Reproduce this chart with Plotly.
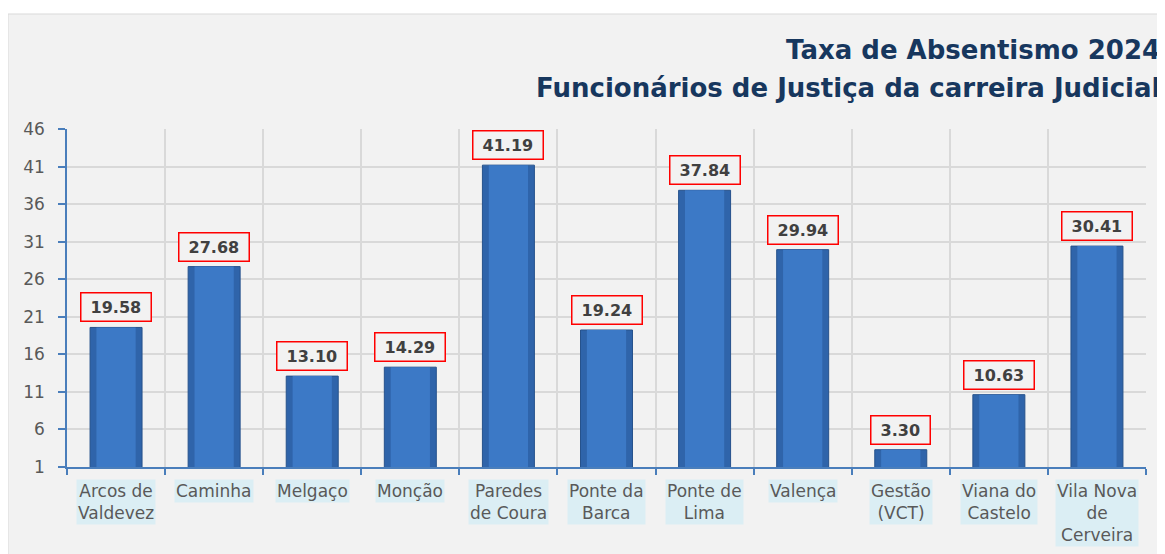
import plotly.graph_objects as go

categories = ["Arcos de Valdevez", "Caminha", "Melgaço", "Monção", "Paredes de Coura",
              "Ponte da Barca", "Ponte de Lima", "Valença", "Gestão (VCT)",
              "Viana do Castelo", "Vila Nova de Cerveira"]
category_labels = ["Arcos de<br>Valdevez", "Caminha", "Melgaço", "Monção", "Paredes<br>de Coura",
                   "Ponte da<br>Barca", "Ponte de<br>Lima", "Valença", "Gestão<br>(VCT)",
                   "Viana do<br>Castelo", "Vila Nova<br>de<br>Cerveira"]
values = [19.58, 27.68, 13.10, 14.29, 41.19, 19.24, 37.84, 29.94, 3.30, 10.63, 30.41]
y_ticks = [1, 6, 11, 16, 21, 26, 31, 36, 41, 46]
title_line1 = "Taxa de Absentismo 2024"
title_line2 = "Funcionários de Justiça da carreira Judicial"

# page body has an 8px margin; figure is laid out in window pixels minus that offset
OFF = 8
W, H = 1165 - OFF, 554 - OFF
ML, MR, MT, MB = 67 - OFF, 19, 129 - OFF, H - (467 - OFF)
PW, PH = W - ML - MR, H - MT - MB


def px_x(xw):
    return (xw - OFF - ML) / PW


def px_y(yw):
    return (H - MB - (yw - OFF)) / PH


FONT = "DejaVu Sans"
AXIS_BLUE = "#4a7ebb"

fig = go.Figure()
fig.add_trace(go.Bar(
    x=categories, y=values, width=0.53,
    marker=dict(color="#2f64aa", line=dict(color="#26528c", width=1)),
    hoverinfo="x+y",
))
fig.add_trace(go.Bar(
    x=categories, y=values, width=0.40,
    marker=dict(color="#3c79c6", line=dict(width=0)),
    hoverinfo="skip",
))

annotations = []
for c, v in zip(categories, values):
    annotations.append(dict(
        x=c, y=v, xref="x", yref="y", yanchor="bottom", yshift=5,
        text="&nbsp;<b>%.2f</b>&nbsp;" % v, showarrow=False,
        font=dict(family=FONT, size=16, color="#404040"),
        bordercolor="#ff0000", borderwidth=1.5, borderpad=4, bgcolor="#f2f2f2",
    ))
for c, lab in zip(categories, category_labels):
    annotations.append(dict(
        x=c, y=0, xref="x", yref="paper", yanchor="top", yshift=-12,
        text=lab, showarrow=False, align="center",
        font=dict(family=FONT, size=17, color="#595959"),
        bgcolor="#dbeef4", borderpad=1,
    ))
annotations.append(dict(
    x=px_x(1162), y=px_y(50), xref="paper", yref="paper", xanchor="right", yanchor="middle",
    text="<b>%s</b>" % title_line1, showarrow=False,
    font=dict(family=FONT, size=26, color="#17375e"),
))
annotations.append(dict(
    x=px_x(1162), y=px_y(88), xref="paper", yref="paper", xanchor="right", yanchor="middle",
    text="<b>%s</b>" % title_line2, showarrow=False,
    font=dict(family=FONT, size=26, color="#17375e"),
))

fig.update_layout(
    width=W, height=H,
    margin=dict(l=ML, r=MR, t=MT, b=MB),
    paper_bgcolor="white", plot_bgcolor="rgba(0,0,0,0)",
    showlegend=False, barmode="overlay",
    annotations=annotations,
    shapes=[dict(type="rect", xref="paper", yref="paper", layer="below",
                 x0=px_x(8), x1=px_x(1180), y0=px_y(570), y1=px_y(14),
                 fillcolor="#f2f2f2", line=dict(color="#d9d9d9", width=1))],
    xaxis=dict(type="category", tickson="boundaries", showticklabels=False,
               showgrid=True, gridcolor="#d9d9d9", gridwidth=1.5,
               ticks="outside", ticklen=6, tickcolor=AXIS_BLUE, tickwidth=1.5,
               showline=True, linecolor=AXIS_BLUE, linewidth=1.5,
               range=[-0.5, 10.5], fixedrange=True),
    yaxis=dict(range=[1, 46], tickvals=y_ticks, showgrid=True, gridcolor="#d9d9d9", gridwidth=1.5,
               ticks="outside", ticklen=7, tickcolor=AXIS_BLUE, tickwidth=1.5,
               showline=True, linecolor=AXIS_BLUE, linewidth=1.5, ticklabelstandoff=10,
               tickfont=dict(family=FONT, size=17, color="#595959"), zeroline=False,
               fixedrange=True),
)

fig.write_html("out.html")
